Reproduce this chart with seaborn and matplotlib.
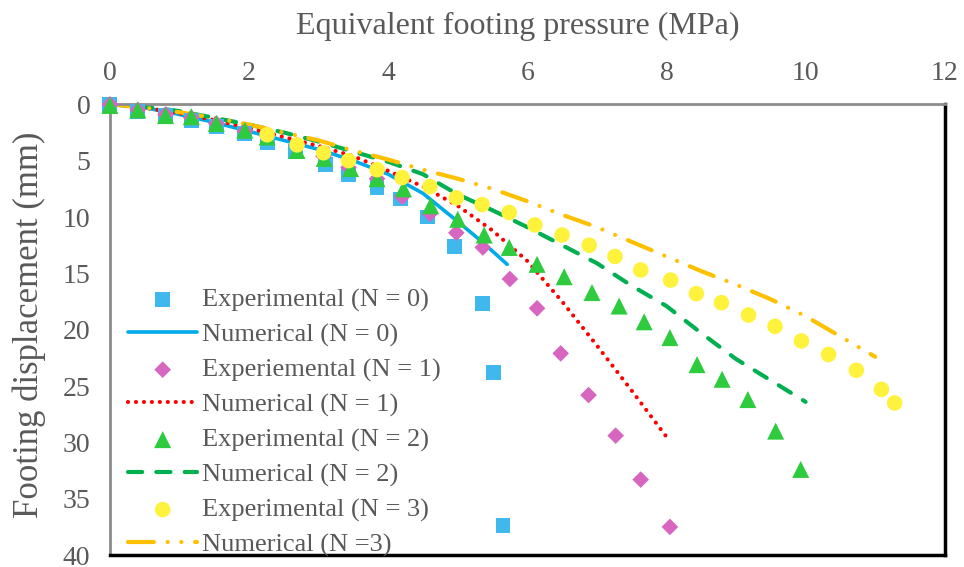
import numpy as np
import pandas as pd
import seaborn as sns
import matplotlib.pyplot as plt

# experimental points (pressure MPa, displacement mm)
exp0_x = [0, 0.40, 0.80, 1.17, 1.53, 1.94, 2.26, 2.67, 3.10, 3.43, 3.84, 4.18, 4.57, 4.95, 5.35, 5.51, 5.65]
exp0_y = [0, 0.6, 1.0, 1.4, 2.0, 2.6, 3.35, 4.2, 5.3, 6.2, 7.35, 8.4, 10.0, 12.6, 17.7, 23.8, 37.4]

exp1_x = [0, 0.40, 0.80, 1.17, 1.53, 1.94, 2.26, 2.69, 3.07, 3.43, 3.84, 4.20, 4.60, 4.98, 5.36, 5.75, 6.14, 6.48, 6.88, 7.27, 7.63, 8.05]
exp1_y = [0, 0.5, 0.9, 1.2, 1.7, 2.4, 2.8, 3.6, 4.6, 5.6, 6.6, 8.2, 9.7, 11.4, 12.7, 15.5, 18.1, 22.1, 25.8, 29.4, 33.3, 37.5]

exp2_x = [0, 0.40, 0.80, 1.17, 1.53, 1.94, 2.26, 2.69, 3.08, 3.46, 3.84, 4.22, 4.61, 5.00, 5.38, 5.74,
          6.14, 6.53, 6.93, 7.32, 7.68, 8.05, 8.44, 8.80, 9.17, 9.57, 9.93]
exp2_y = [0.1, 0.5, 1.0, 1.1, 1.7, 2.3, 2.9, 4.1, 4.8, 5.7, 6.6, 7.5, 9.0, 10.2, 11.6, 12.7,
          14.2, 15.3, 16.7, 17.9, 19.3, 20.7, 23.1, 24.4, 26.2, 29.0, 32.4]

exp3_x = [2.26, 2.69, 3.07, 3.43, 3.84, 4.20, 4.60, 4.98, 5.35, 5.74, 6.11, 6.50, 6.89, 7.26, 7.63,
          8.06, 8.43, 8.79, 9.18, 9.56, 9.94, 10.33, 10.73, 11.09, 11.28]
exp3_y = [2.7, 3.6, 4.3, 5.0, 5.8, 6.5, 7.3, 8.3, 8.9, 9.6, 10.7, 11.6, 12.5, 13.5, 14.7,
          15.6, 16.8, 17.6, 18.7, 19.7, 21.0, 22.2, 23.6, 25.3, 26.5]

# numerical curves
num0_x = [0, 0.5, 1.0, 1.5, 2.0, 2.5, 3.0, 3.5, 4.0, 4.5, 5.0, 5.35, 5.71]
num0_y = [0, 0.3, 0.9, 1.6, 2.4, 3.2, 4.0, 5.0, 6.2, 7.9, 10.4, 12.2, 14.2]

num1_x = [0, 0.5, 1.0, 1.5, 2.0, 2.5, 3.0, 3.5, 4.0, 4.5, 5.0, 5.5, 6.0, 6.5, 7.0, 7.5, 8.0]
num1_y = [0, 0.3, 0.8, 1.4, 2.1, 2.9, 3.7, 4.6, 5.9, 7.3, 9.0, 11.2, 13.9, 17.5, 21.4, 25.4, 29.5]

num2_x = [0, 0.5, 1.0, 1.5, 2.0, 2.5, 3.0, 3.5, 4.0, 4.5, 5.0, 5.5, 6.0, 6.5, 7.0, 7.5, 8.0, 8.5, 9.0, 9.5, 10.0]
num2_y = [0, 0.2, 0.6, 1.2, 1.8, 2.5, 3.3, 4.2, 5.1, 6.2, 8.0, 9.4, 10.9, 12.5, 14.1, 16.1, 17.9, 20.3, 22.6, 24.5, 26.4]

num3_x = [0, 0.5, 1.0, 1.5, 2.0, 2.5, 3.0, 3.5, 4.0, 4.5, 5.0, 5.5, 6.0, 6.5, 7.0, 7.5, 8.0, 8.5, 9.0, 9.5, 10.0, 10.5, 11.0]
num3_y = [0, 0.3, 0.7, 1.2, 1.8, 2.5, 3.2, 4.1, 4.9, 5.8, 6.6, 7.5, 8.6, 9.8, 10.9, 12.2, 13.5, 14.8, 16.0, 17.3, 18.8, 20.6, 22.4]

labels = ['Experimental (N = 0)', 'Numerical (N = 0)',
          'Experiemental (N = 1)', 'Numerical (N = 1)',
          'Experimental (N = 2)', 'Numerical (N = 2)',
          'Experimental (N = 3)', 'Numerical (N =3)']

sns.set_theme(style='white')
plt.rcParams['font.family'] = ['Liberation Serif', 'DejaVu Serif']
grey = '#595959'

fig, ax = plt.subplots(figsize=(9.64, 5.67), dpi=100)
fig.subplots_adjust(left=0.114, right=0.98, top=0.816, bottom=0.021)

#NUMERICAL LINES
sns.lineplot(x=num0_x, y=num0_y, ax=ax, sort=False, estimator=None, color='#00AAEB',
             lw=2.6, label=labels[1])
sns.lineplot(x=num1_x, y=num1_y, ax=ax, sort=False, estimator=None, color='#FF0000',
             lw=3.0, linestyle=(0, (0.01, 1.9)), dash_capstyle='round', label=labels[3])
sns.lineplot(x=num2_x, y=num2_y, ax=ax, sort=False, estimator=None, color='#00B050',
             lw=3.0, linestyle=(0, (3.4, 3.4)), dash_capstyle='round', label=labels[5])
sns.lineplot(x=num3_x, y=num3_y, ax=ax, sort=False, estimator=None, color='#FFC000',
             lw=3.0, linestyle=(0, (6.2, 3.3, 0.01, 3.3, 0.01, 3.3)), dash_capstyle='round',
             label=labels[7])

#EXPERIMENTAL POINTS
sns.scatterplot(x=exp0_x, y=exp0_y, ax=ax, marker='s', s=115, color='#3FB8EE',
                edgecolor='none', clip_on=False, zorder=3, label=labels[0])
sns.scatterplot(x=exp1_x, y=exp1_y, ax=ax, marker='D', s=72, color='#D666C0',
                edgecolor='none', clip_on=False, zorder=3, label=labels[2])
sns.scatterplot(x=exp2_x, y=exp2_y, ax=ax, marker='^', s=150, color='#2ECB3E',
                edgecolor='none', clip_on=False, zorder=3, label=labels[4])
sns.scatterplot(x=exp3_x, y=exp3_y, ax=ax, marker='o', s=125, color='#FFF23C',
                edgecolor='none', clip_on=False, zorder=3, label=labels[6])

ax.set_xlim(0, 12)
ax.set_ylim(40, 0)
ax.set_xticks(range(0, 13, 2))
ax.set_yticks(range(0, 41, 5))
ax.xaxis.tick_top()
ax.xaxis.set_label_position('top')
ax.tick_params(axis='both', length=0, labelsize=20, colors=grey)
ax.tick_params(axis='x', pad=13)
ax.tick_params(axis='y', pad=14)
ax.set_xlabel('Equivalent footing pressure (MPa)', fontsize=23, color=grey)
ax.set_ylabel('Footing displacement (mm)', fontsize=25, color=grey)
ax.xaxis.set_label_coords(0.488, 1.157)
ax.yaxis.set_label_coords(-0.076, 0.51)

for side in ['top', 'left']:
    ax.spines[side].set_color('#8C8C8C')
    ax.spines[side].set_linewidth(2)
for side in ['right', 'bottom']:
    ax.spines[side].set_color('black')
    ax.spines[side].set_linewidth(2.5)

#LEGEND IN ORIGINAL ORDER
handles, labs = ax.get_legend_handles_labels()
lookup = dict(zip(labs, handles))
leg = ax.legend([lookup[l] for l in labels], labels, loc='lower left',
                bbox_to_anchor=(0.0, -0.045), frameon=False, fontsize=19,
                handlelength=2.6, handletextpad=0.2, labelspacing=0.42,
                borderaxespad=0.3)
for t in leg.get_texts():
    t.set_color(grey)

fig.savefig('out.png', dpi=100)
